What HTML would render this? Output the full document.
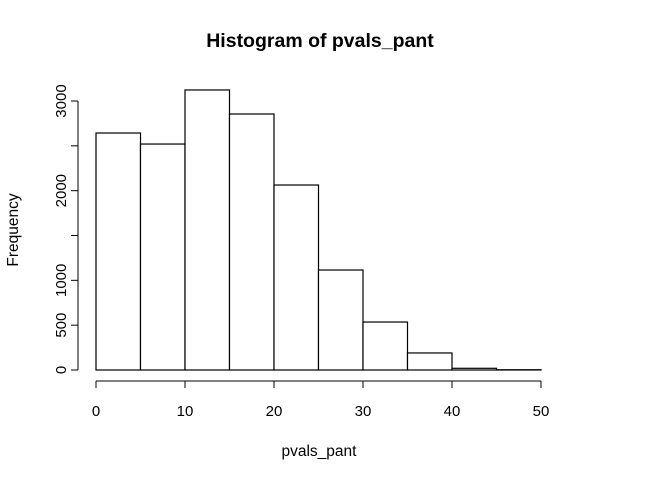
<!DOCTYPE html>
<html><head><meta charset="utf-8"><style>
body{margin:0;background:#fff;}
svg{display:block;font-family:"Liberation Sans",sans-serif;}
</style></head><body>
<svg id="chart" width="672" height="480">
<text x="320" y="47" text-anchor="middle" font-size="19.5" font-weight="bold">Histogram of pvals_pant</text>
<text x="319" y="456" text-anchor="middle" font-size="15.5">pvals_pant</text>
<text transform="translate(18,230) rotate(-90)" text-anchor="middle" font-size="15.5">Frequency</text>
<g id="bars"></g><g id="xaxis"></g><g id="yaxis"></g>
</svg>
<script>
const binEdges=[0,5,10,15,20,25,30,35,40,45,50];
const counts=[2643,2520,3123,2855,2063,1115,535,190,19,3];
const xTicks=[0,10,20,30,40,50];
const yTicks=[0,500,1000,1500,2000,2500,3000];
const yLabels=["0","500","1000","","2000","","3000"];
const NS="http://www.w3.org/2000/svg";
const xs=v=>96+v*(541-96)/50;
const ys=v=>370-v*(370-101)/3000;
function mk(t,a,p){const e=document.createElementNS(NS,t);for(const k in a)e.setAttribute(k,a[k]);p.appendChild(e);return e;}
const bars=document.getElementById('bars');
counts.forEach((c,i)=>{
 const r=mk('rect',{x:xs(binEdges[i]),y:ys(c),width:xs(binEdges[i+1])-xs(binEdges[i]),height:ys(0)-ys(c),fill:'#fff',stroke:'#000','stroke-width':1.2},bars);
 
 
});
const xa=document.getElementById('xaxis');


mk('line',{x1:xs(0),x2:xs(50),y1:381,y2:381,stroke:'#000'},xa);
xTicks.forEach(v=>{
 mk('line',{x1:xs(v),x2:xs(v),y1:381,y2:388,stroke:'#000'},xa);
 const t=mk('text',{x:xs(v),y:416,'text-anchor':'middle','font-size':15},xa);t.textContent=v;
 
 
});
const ya=document.getElementById('yaxis');


mk('line',{x1:78,x2:78,y1:ys(0),y2:ys(3000),stroke:'#000'},ya);
yTicks.forEach((v,i)=>{
 mk('line',{x1:71,x2:78,y1:ys(v),y2:ys(v),stroke:'#000'},ya);
 if(yLabels[i]){const t=mk('text',{transform:`translate(66,${ys(v)}) rotate(-90)`,'text-anchor':'middle','font-size':15},ya);t.textContent=yLabels[i];
 
 }
});
</script>
</body></html>
